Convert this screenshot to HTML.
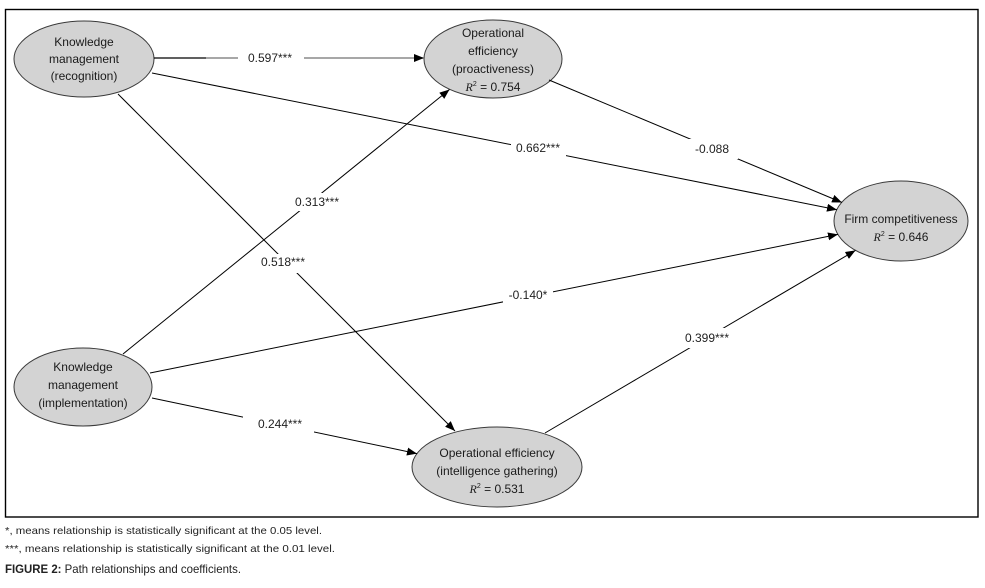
<!DOCTYPE html>
<html>
<head>
<meta charset="utf-8">
<style>
  html, body { margin: 0; padding: 0; background: #ffffff; }
  body { width: 985px; height: 588px; overflow: hidden; }
  svg { display: block; }
  .n { font-family: "Liberation Sans", Arial, sans-serif; font-size: 12px; fill: #1a1a1a; }
  .l { font-family: "Liberation Sans", Arial, sans-serif; font-size: 12px; fill: #1f1f1f; }
  .r { font-family: "Liberation Serif", serif; font-style: italic; }
  .c { font-family: "Liberation Sans", Arial, sans-serif; font-size: 10.5px; fill: #222; }
  .f { font-family: "Liberation Sans", Arial, sans-serif; font-size: 12px; fill: #222; }
</style>
</head>
<body>
<svg width="985" height="588" viewBox="0 0 985 588" xmlns="http://www.w3.org/2000/svg">
  <defs>
    <marker id="ah" markerUnits="userSpaceOnUse" markerWidth="11" markerHeight="9" refX="10" refY="4" orient="auto">
      <path d="M0,0 L10,4 L0,8 z" fill="#000"/>
    </marker>
  </defs>

  <rect x="0" y="0" width="985" height="588" fill="#fff"/>

  <!-- frame -->
  <rect x="5.5" y="9.5" width="972.5" height="507.5" fill="none" stroke="#000" stroke-width="1.4"/>

  <!-- ellipses -->
  <ellipse cx="84" cy="59" rx="70" ry="38" fill="#d3d3d3" stroke="#3a3a3a" stroke-width="1"/>
  <ellipse cx="493" cy="59" rx="69" ry="39" fill="#d3d3d3" stroke="#3a3a3a" stroke-width="1"/>
  <ellipse cx="901" cy="221" rx="67" ry="40" fill="#d3d3d3" stroke="#3a3a3a" stroke-width="1"/>
  <ellipse cx="83" cy="387" rx="69" ry="39" fill="#d3d3d3" stroke="#3a3a3a" stroke-width="1"/>
  <ellipse cx="497" cy="467" rx="85" ry="40" fill="#d3d3d3" stroke="#3a3a3a" stroke-width="1"/>

  <!-- connectors -->
  <!-- KM rec -> OE proact (0.597) -->
  <line x1="154" y1="58" x2="206" y2="58" stroke="#000" stroke-width="1.2"/>
  <line x1="206" y1="58" x2="424" y2="58" stroke="#8a8a8a" stroke-width="1.5" marker-end="url(#ah)"/>
  <!-- KM rec -> Firm (0.662) -->
  <line x1="152" y1="73" x2="837" y2="209.7" stroke="#000" stroke-width="1" marker-end="url(#ah)"/>
  <!-- KM rec -> OE int (0.518) -->
  <line x1="118" y1="94" x2="455" y2="431" stroke="#000" stroke-width="1" marker-end="url(#ah)"/>
  <!-- KM impl -> OE proact (0.313) -->
  <line x1="123" y1="354" x2="449.5" y2="89.5" stroke="#000" stroke-width="1" marker-end="url(#ah)"/>
  <!-- KM impl -> Firm (-0.140) -->
  <line x1="150" y1="373" x2="838" y2="234.4" stroke="#000" stroke-width="1" marker-end="url(#ah)"/>
  <!-- KM impl -> OE int (0.244) -->
  <line x1="152" y1="398" x2="417" y2="453.6" stroke="#000" stroke-width="1" marker-end="url(#ah)"/>
  <!-- OE proact -> Firm (-0.088) -->
  <line x1="549" y1="80" x2="842" y2="202.5" stroke="#000" stroke-width="1" marker-end="url(#ah)"/>
  <!-- OE int -> Firm (0.399) -->
  <line x1="545" y1="433" x2="855.5" y2="250.4" stroke="#000" stroke-width="1" marker-end="url(#ah)"/>

  <!-- label backgrounds -->
  <rect x="238" y="50" width="66" height="16" fill="#fff"/>
  <rect x="511" y="140" width="55" height="17" fill="#fff"/>
  <rect x="290" y="193" width="54" height="18" fill="#fff"/>
  <rect x="256" y="254" width="54" height="19" fill="#fff"/>
  <rect x="503" y="287" width="50" height="17" fill="#fff"/>
  <rect x="243" y="416" width="71" height="17" fill="#fff"/>
  <rect x="689" y="139" width="49" height="20" fill="#fff"/>
  <rect x="681" y="328" width="52" height="20" fill="#fff"/>

  <!-- labels -->
  <text class="l" x="270" y="62" text-anchor="middle">0.597***</text>
  <text class="l" x="538" y="152" text-anchor="middle">0.662***</text>
  <text class="l" x="317" y="206" text-anchor="middle">0.313***</text>
  <text class="l" x="283" y="266" text-anchor="middle">0.518***</text>
  <text class="l" x="528" y="299" text-anchor="middle">-0.140*</text>
  <text class="l" x="280" y="428" text-anchor="middle">0.244***</text>
  <text class="l" x="712" y="153" text-anchor="middle">-0.088</text>
  <text class="l" x="707" y="342" text-anchor="middle">0.399***</text>

  <!-- node texts -->
  <text class="n" x="84" y="46" text-anchor="middle">Knowledge</text>
  <text class="n" x="84" y="63" text-anchor="middle">management</text>
  <text class="n" x="84" y="80" text-anchor="middle">(recognition)</text>

  <text class="n" x="493" y="37" text-anchor="middle">Operational</text>
  <text class="n" x="493" y="55" text-anchor="middle">efficiency</text>
  <text class="n" x="493" y="73" text-anchor="middle">(proactiveness)</text>
  <text class="n" x="493" y="91" text-anchor="middle"><tspan class="r">R</tspan><tspan font-size="7" dy="-5">2</tspan><tspan dy="5"> = 0.754</tspan></text>

  <text class="n" x="901" y="223" text-anchor="middle">Firm competitiveness</text>
  <text class="n" x="901" y="241" text-anchor="middle"><tspan class="r">R</tspan><tspan font-size="7" dy="-5">2</tspan><tspan dy="5"> = 0.646</tspan></text>

  <text class="n" x="83" y="371" text-anchor="middle">Knowledge</text>
  <text class="n" x="83" y="389" text-anchor="middle">management</text>
  <text class="n" x="83" y="407" text-anchor="middle">(implementation)</text>

  <text class="n" x="497" y="457" text-anchor="middle">Operational efficiency</text>
  <text class="n" x="497" y="475" text-anchor="middle">(intelligence gathering)</text>
  <text class="n" x="497" y="493" text-anchor="middle"><tspan class="r">R</tspan><tspan font-size="7" dy="-5">2</tspan><tspan dy="5"> = 0.531</tspan></text>

  <!-- captions -->
  <text class="c" x="5" y="534" textLength="317" lengthAdjust="spacingAndGlyphs">*, means relationship is statistically significant at the 0.05 level.</text>
  <text class="c" x="5" y="552" textLength="330" lengthAdjust="spacingAndGlyphs">***, means relationship is statistically significant at the 0.01 level.</text>
  <text class="f" x="5" y="573" textLength="236" lengthAdjust="spacingAndGlyphs"><tspan font-weight="bold">FIGURE 2:</tspan> Path relationships and coefficients.</text>
</svg>
</body>
</html>
